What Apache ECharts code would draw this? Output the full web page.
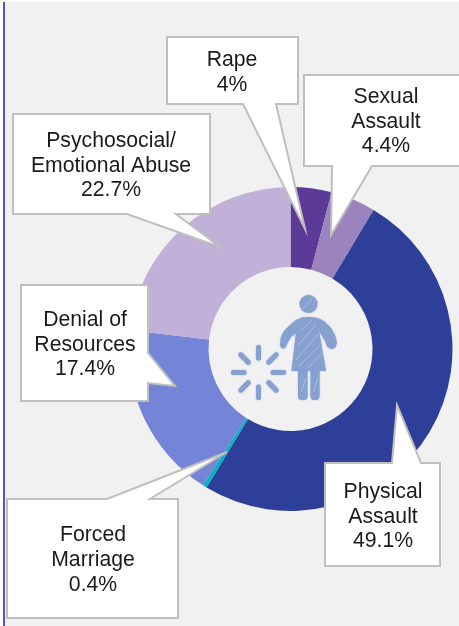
<!DOCTYPE html>
<html>
<head>
<meta charset="utf-8">
<style>
  html, body { margin: 0; padding: 0; background: #f1f1f1; }
  #chart { width: 459px; height: 626px; }
</style>
<script src="https://cdn.jsdelivr.net/npm/echarts@6/dist/echarts.min.js"></script>
</head>
<body>
<div id="chart"></div>
<script>
// Reported violence types, clockwise from twelve o'clock
const categories = ['Rape', 'Sexual Assault', 'Physical Assault', 'Forced Marriage', 'Denial of Resources', 'Psychosocial/ Emotional Abuse'];
const shares = [4, 4.4, 49.1, 0.4, 17.4, 22.7];
const sliceColors = ['#5b3a98', '#9b84bd', '#2e3f99', '#00b4c0', '#7484d6', '#c1b1d8'];
// Line breaks inside each callout
const calloutLines = [['Rape'], ['Sexual', 'Assault'], ['Physical', 'Assault'], ['Forced', 'Marriage'], ['Denial of', 'Resources'], ['Psychosocial/', 'Emotional Abuse']];

// Callout outlines, with the text centre and first row position
const calloutShapes = [
  { pts: [[167,37],[298,37],[298,104],[276,104],[305,229],[243,104],[167,104]], cx: 232, top: 60 },
  { pts: [[304,75],[462,75],[462,166],[372,166],[331,235],[332,166],[304,166]], cx: 386, top: 97 },
  { pts: [[325,463],[392,463],[397,405],[421,463],[440,463],[440,566],[325,566]], cx: 383, top: 492 },
  { pts: [[7,499],[107,499],[227,452],[150,499],[178,499],[178,618],[7,618]], cx: 93, top: 535.5 },
  { pts: [[21,285],[148,285],[148,353],[175,386],[148,383],[148,401],[21,401]], cx: 85, top: 320 },
  { pts: [[13,114],[210,114],[210,214],[176,214],[220,247],[127,214],[13,214]], cx: 111, top: 141 }
];

const iconColor = '#86a1cf';
const hatchColor = '#a9bedf';
const pieCenter = [290.5, 349];

const graphics = [
  { type: 'rect', shape: { x: 0, y: 0, width: 3, height: 626 }, style: { fill: '#ffffff' }, silent: true, z: 0 },
  { type: 'rect', shape: { x: 3, y: 0, width: 2, height: 626 }, style: { fill: '#6a50a7' }, silent: true, z: 0 },
  { type: 'rect', shape: { x: 0, y: 0, width: 459, height: 2 }, style: { fill: '#fafafa' }, silent: true, z: 0 }
];

// Callouts built from the category and share arrays
calloutShapes.forEach(function (c, i) {
  graphics.push({
    type: 'polygon',
    shape: { points: c.pts },
    style: { fill: '#ffffff', stroke: '#bfbfbf', lineWidth: 2, lineJoin: 'miter' },
    silent: true, z: 10
  });
  const rows = calloutLines[i].concat([shares[i] + '%']);
  rows.forEach(function (row, r) {
    graphics.push({
      type: 'text',
      x: c.cx, y: c.top + r * 24.8,
      style: {
        text: row, fill: '#1a1a1a',
        font: '21.2px "Liberation Sans", Arial, sans-serif',
        textAlign: 'center', textVerticalAlign: 'middle'
      },
      silent: true, z: 11
    });
  });
});

// Central pictogram: figure with a burst of short strokes beside it
const iconStyle = { fill: iconColor, shadowBlur: 1.5, shadowColor: iconColor };
const figureOutline = [
  [308,317],[302,317.5],[296,320],[290,325],[284,331],[281,337],[280,345],[282,348.5],[285,348],
  [288,342],[291,337],[296,333],[291.5,371],[326,371],[319,331],[322,336],[325,341],[327,346.5],
  [331,349],[335,348],[337,343],[335,335],[331,328],[325,322],[320,319],[314,317.5]
];
graphics.push(
  { type: 'circle', shape: { cx: 308.5, cy: 304, r: 9 }, style: iconStyle, silent: true, z: 5 },
  { type: 'polygon', shape: { points: figureOutline }, style: iconStyle, silent: true, z: 5 },
  { type: 'rect', shape: { x: 298, y: 368, width: 9.5, height: 32, r: 4 }, style: iconStyle, silent: true, z: 5 },
  { type: 'rect', shape: { x: 310.5, y: 368, width: 9, height: 32, r: 4 }, style: iconStyle, silent: true, z: 5 }
);
// Pencil-like shading across the figure
[[301,330,312,320],[298,345,316,325],[296,360,318,334],[298,367,320,345],[308,368,323,352],
 [303,309,312,299],[301,392,306,378],[313,392,318,378]].forEach(function (s) {
  graphics.push({
    type: 'line',
    shape: { x1: s[0], y1: s[1], x2: s[2], y2: s[3] },
    style: { stroke: hatchColor, lineWidth: 1 },
    silent: true, z: 6
  });
});
for (let k = 0; k < 8; k++) {
  const a = k * Math.PI / 4;
  graphics.push({
    type: 'line',
    shape: {
      x1: 258.5 + 14.5 * Math.cos(a), y1: 372.5 + 14.5 * Math.sin(a),
      x2: 258.5 + 25 * Math.cos(a), y2: 372.5 + 25 * Math.sin(a)
    },
    style: { stroke: iconColor, lineWidth: 5, lineCap: 'round', shadowBlur: 1.5, shadowColor: iconColor },
    silent: true, z: 5
  });
}

const chart = echarts.init(document.getElementById('chart'), null, { renderer: 'canvas' });
chart.setOption({
  animation: false,
  backgroundColor: '#f1f1f1',
  series: [{
    type: 'pie',
    center: pieCenter,
    radius: [82, 162],
    startAngle: 90,
    clockwise: true,
    minAngle: 0,
    avoidLabelOverlap: false,
    label: { show: false },
    labelLine: { show: false },
    silent: true,
    data: categories.map(function (name, i) {
      return { name: name, value: shares[i], itemStyle: { color: sliceColors[i] } };
    })
  }],
  graphic: { elements: graphics }
});
</script>
</body>
</html>
